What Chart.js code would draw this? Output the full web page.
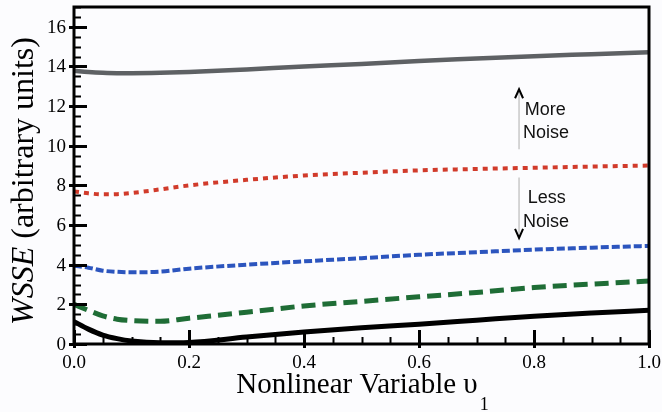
<!DOCTYPE html>
<html>
<head>
<meta charset="utf-8">
<script src="https://cdn.jsdelivr.net/npm/chart.js@4"></script>
<style>
  html, body { margin: 0; padding: 0; background: #fcfcfe; }
  #wrap { width: 662px; height: 412px; position: relative; }
</style>
</head>
<body>
<div id="wrap"><canvas id="chart"></canvas></div>
<script>
// data
const xValues = [0, 0.025, 0.05, 0.075, 0.1, 0.15, 0.2, 0.3, 0.4, 0.5, 0.6, 0.7, 0.8, 0.9, 1.0];
const grayValues  = [13.78, 13.72, 13.68, 13.66, 13.66, 13.68, 13.72, 13.85, 14.0, 14.12, 14.28, 14.4, 14.52, 14.62, 14.72];
const redValues   = [7.7, 7.6, 7.55, 7.56, 7.62, 7.8, 8.0, 8.28, 8.5, 8.64, 8.76, 8.83, 8.89, 8.95, 9.0];
const blueValues  = [3.95, 3.85, 3.7, 3.64, 3.62, 3.65, 3.8, 4.0, 4.17, 4.33, 4.5, 4.63, 4.76, 4.86, 4.95];
const greenValues = [2.0, 1.7, 1.42, 1.25, 1.18, 1.15, 1.3, 1.6, 1.92, 2.15, 2.38, 2.6, 2.85, 3.02, 3.18];
const blackValues = [1.13, 0.75, 0.45, 0.27, 0.15, 0.06, 0.08, 0.35, 0.6, 0.82, 1.0, 1.2, 1.4, 1.56, 1.7];
const yTickLabels = [0, 2, 4, 6, 8, 10, 12, 14, 16];
const xTickLabels = [0, 0.2, 0.4, 0.6, 0.8, 1.0];

const SERIF = '"Liberation Serif", "DejaVu Serif", serif';
const toPoints = vals => vals.map((v, i) => ({ x: xValues[i], y: v }));

function series(vals, color, width, dash) {
  return {
    data: toPoints(vals),
    borderColor: color,
    borderWidth: width,
    borderDash: dash,
    pointRadius: 0,
    fill: false,
    cubicInterpolationMode: 'monotone'
  };
}

// inward ticks, tick labels, frame, titles and the noise arrows
const decor = {
  id: 'decor',
  afterDraw(chart) {
    const c = chart.ctx;
    const a = chart.chartArea;
    const xs = chart.scales.x, ys = chart.scales.y;
    c.save();
    c.strokeStyle = '#000';
    c.fillStyle = '#000';

    // y ticks, major every 2, minor every 0.5
    for (let v = 0; v <= 17.001; v += 0.5) {
      const py = Math.round(ys.getPixelForValue(v)) + 0.5;
      const major = Math.abs(v % 2) < 0.001;
      c.lineWidth = major ? 3 : 2;
      c.beginPath();
      c.moveTo(a.left - (major ? 5 : 0), py);
      c.lineTo(a.left + (major ? 13 : 7), py);
      c.stroke();
    }
    // x ticks, major every 0.2, minor every 0.05
    for (let i = 0; i <= 20; i++) {
      const px = Math.round(xs.getPixelForValue(i * 0.05)) + 0.5;
      const major = i % 4 === 0;
      c.lineWidth = major ? 3 : 2;
      c.beginPath();
      c.moveTo(px, a.bottom + (major ? 4 : 0));
      c.lineTo(px, a.bottom - (major ? 14 : 7));
      c.stroke();
    }

    // frame
    c.lineWidth = 3;
    c.strokeRect(a.left, a.top, a.right - a.left, a.bottom - a.top);

    // tick labels
    c.font = '19px ' + SERIF;
    c.textBaseline = 'alphabetic';
    c.textAlign = 'right';
    yTickLabels.forEach(v => c.fillText(String(v), a.left - 8, ys.getPixelForValue(v) + 6));
    c.textAlign = 'center';
    xTickLabels.forEach(v => c.fillText(v.toFixed(1), xs.getPixelForValue(v), 368));

    // x title with subscript
    c.textAlign = 'left';
    c.font = '29px ' + SERIF;
    const xt = 'Nonlinear Variable \u03c5';
    const xw = c.measureText(xt).width;
    const x0 = 357 - xw / 2;
    c.fillText(xt, x0, 393);
    c.font = '18px ' + SERIF;
    c.fillText('1', x0 + xw + 2, 410);

    // y title, italic WSSE
    c.translate(25, 181);
    c.rotate(-Math.PI / 2);
    const f1 = 'italic 32px ' + SERIF;
    const f2 = '32px ' + SERIF;
    c.font = f1;
    const w1 = c.measureText('WSSE').width;
    c.font = f2;
    const w2 = c.measureText(' (arbitrary units)').width;
    c.textBaseline = 'middle';
    c.font = f1;
    c.fillText('WSSE', -(w1 + w2) / 2, 0);
    c.font = f2;
    c.fillText(' (arbitrary units)', -(w1 + w2) / 2 + w1, 0);
    c.setTransform(1, 0, 0, 1, 0, 0);

    // arrows
    const ax = xs.getPixelForValue(0.774);
    function arrow(from, to) {
      const p1 = ys.getPixelForValue(from), p2 = ys.getPixelForValue(to);
      const dir = p2 < p1 ? 1 : -1;
      c.strokeStyle = '#c8c8c8';
      c.lineWidth = 1.5;
      c.beginPath();
      c.moveTo(ax, p1);
      c.lineTo(ax, p2);
      c.stroke();
      c.strokeStyle = '#000';
      c.lineWidth = 2;
      c.beginPath();
      c.moveTo(ax - 4, p2 + dir * 9);
      c.lineTo(ax, p2);
      c.lineTo(ax + 4, p2 + dir * 9);
      c.stroke();
    }
    arrow(9.82, 12.85);
    arrow(8.4, 5.35);

    c.fillStyle = '#111';
    c.font = '18px "Liberation Sans", Arial, sans-serif';
    c.textBaseline = 'middle';
    c.fillText('More', xs.getPixelForValue(0.784), ys.getPixelForValue(11.81));
    c.fillText('Noise', xs.getPixelForValue(0.781), ys.getPixelForValue(10.63));
    c.fillText('Less', xs.getPixelForValue(0.789), ys.getPixelForValue(7.34));
    c.fillText('Noise', xs.getPixelForValue(0.781), ys.getPixelForValue(6.13));
    c.restore();
  }
};

const ctx = document.getElementById('chart').getContext('2d');
const chart = new Chart(ctx, {
  type: 'line',
  data: {
    datasets: [
      series(grayValues, '#5e6164', 4.5, []),
      series(redValues, '#d13b2b', 4, [5, 5]),
      series(blueValues, '#2c55be', 4, [8, 3]),
      series(greenValues, '#1f6d36', 5, [14, 7]),
      series(blackValues, '#000000', 5, [])
    ]
  },
  options: {
    responsive: true,
    maintainAspectRatio: false,
    animation: false,
    layout: { padding: { left: 74, right: 13, top: 7, bottom: 68 } },
    plugins: {
      legend: { display: false },
      tooltip: { enabled: false }
    },
    scales: {
      x: { type: 'linear', min: 0, max: 1, display: false },
      y: { type: 'linear', min: 0, max: 17, display: false }
    }
  },
  plugins: [decor]
});
</script>
</body>
</html>
